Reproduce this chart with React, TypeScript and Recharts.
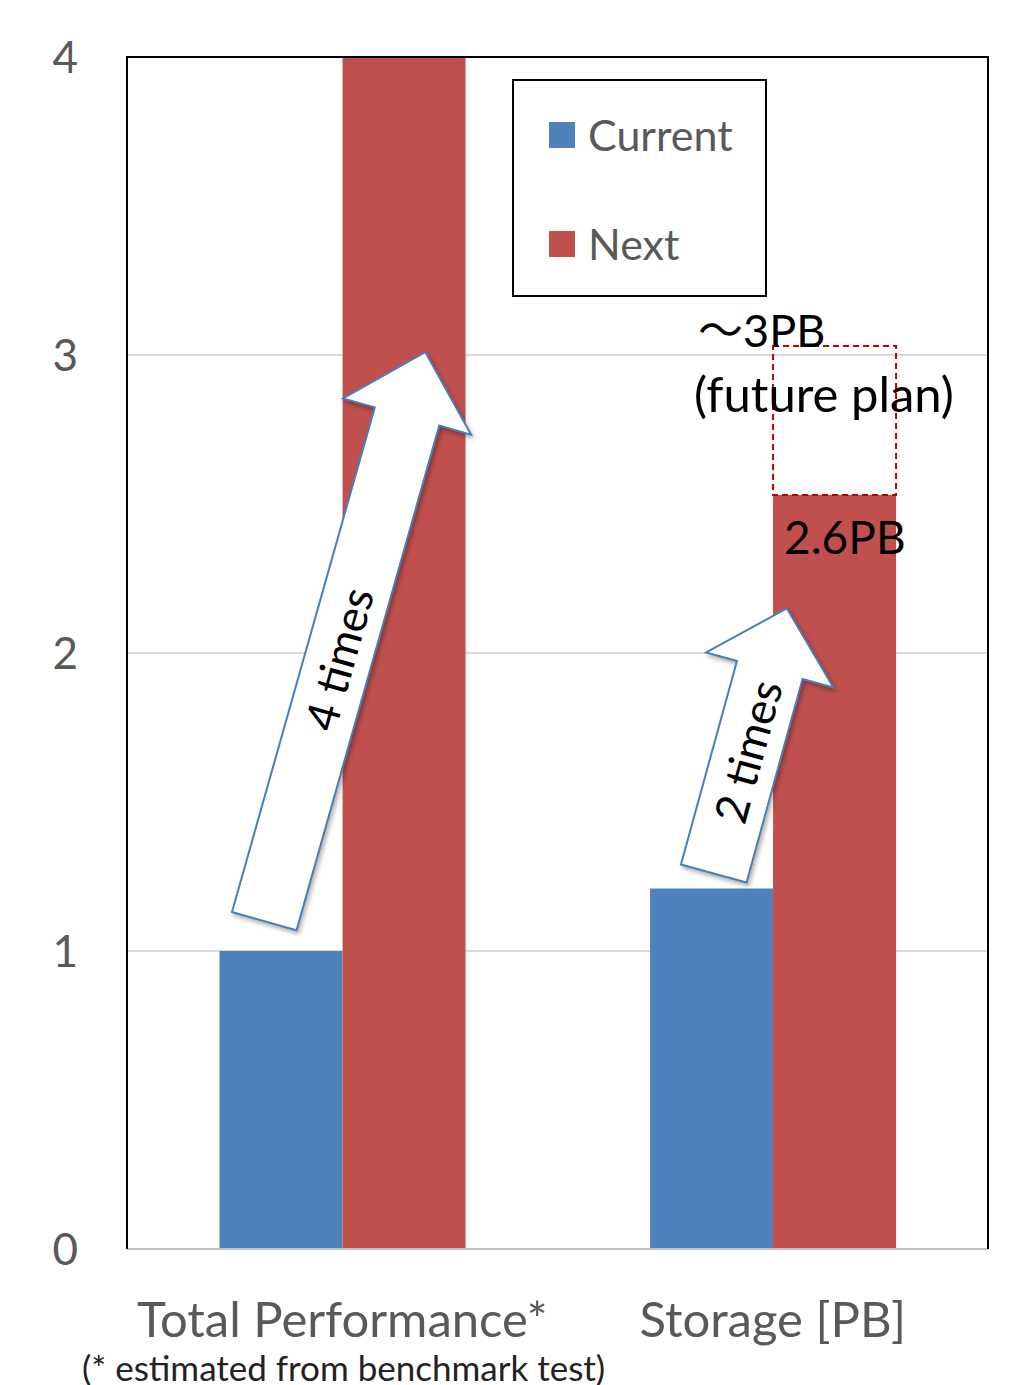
import { BarChart, Bar, XAxis, YAxis, CartesianGrid, LabelList } from "recharts";

const categories = ["Total Performance*", "Storage [PB]"];
const current = [1, 1.21];
const next = [4, 2.53];
const plan = [0, 0.5]; // dashed "future plan" box stacked on top of next
const nextLabels = ["", "2.6PB"];
const planLabels = ["〜3PB", "(future plan)"];
const yTicks = [0, 1, 2, 3, 4];
const footnote = "(* estimated from benchmark test)";
const legendItems = [
    { name: "Current", color: "#4f81bd" },
    { name: "Next", color: "#c0504d" },
];

const data = categories.map((name, i) => ({
    name,
    current: current[i],
    next: next[i],
    plan: plan[i],
}));

const W = 1024;
const H = 1385;
const Y_AXIS_W = 127;
const X_AXIS_H = 136;
const MARGIN = { top: 57, right: 36, bottom: 0, left: 0 };
const PLOT = {
    x: MARGIN.left + Y_AXIS_W,
    y: MARGIN.top,
    w: W - MARGIN.left - Y_AXIS_W - MARGIN.right,
    h: H - MARGIN.top - MARGIN.bottom - X_AXIS_H,
};
const Y_MAX = 4;
const FONT = "Lato, 'Noto Sans CJK JP', sans-serif";

const yPx = (v: number) => PLOT.y + PLOT.h * (1 - v / Y_MAX);
const bandCenter = (i: number) => PLOT.x + (PLOT.w / categories.length) * (i + 0.5);

// arrows: x as offset from category centre, y in data units
const arrows = [
    { cat: 0, tailDx: -78, tailV: 1.1, tipDx: 83, tipV: 3.01, shaft: 67, head: 133, headLen: 67, text: "4 times", t: 0.52 },
    { cat: 1, tailDx: -59, tailV: 1.26, tipDx: 14, tipV: 2.15, shaft: 68, head: 132, headLen: 64, text: "2 times", t: 0.6 },
];

function Arrow({ a }: { a: (typeof arrows)[number] }) {
    const tx = bandCenter(a.cat) + a.tailDx;
    const ty = yPx(a.tailV);
    const px = bandCenter(a.cat) + a.tipDx;
    const py = yPx(a.tipV);
    const len = Math.hypot(px - tx, py - ty);
    const ux = (px - tx) / len;
    const uy = (py - ty) / len;
    const nx = -uy;
    const ny = ux;
    const bx = px - ux * a.headLen;
    const by = py - uy * a.headLen;
    const s = a.shaft / 2;
    const h = a.head / 2;
    const pts = [
        [tx + nx * s, ty + ny * s],
        [bx + nx * s, by + ny * s],
        [bx + nx * h, by + ny * h],
        [px, py],
        [bx - nx * h, by - ny * h],
        [bx - nx * s, by - ny * s],
        [tx - nx * s, ty - ny * s],
    ];
    const cx = tx + (bx - tx) * a.t;
    const cy = ty + (by - ty) * a.t;
    const angle = (Math.atan2(uy, ux) * 180) / Math.PI;
    return (
        <g>
            <polygon
                points={pts.map((p) => p.join(",")).join(" ")}
                fill="#ffffff"
                stroke="#4a7ebb"
                strokeWidth={2}
                style={{ filter: "drop-shadow(2px 3px 2px rgba(0,0,0,0.3))" }}
            />
            <text
                x={cx}
                y={cy}
                transform={`rotate(${angle} ${cx} ${cy})`}
                textAnchor="middle"
                dominantBaseline="central"
                fontSize={45}
                fontFamily={FONT}
                fill="#000"
            >
                {a.text}
            </text>
        </g>
    );
}

// drawn on top of the chart svg
function Overlay() {
    return (
        <svg width={W} height={H} style={{ position: "absolute", left: 0, top: 0, pointerEvents: "none" }}>
            <polyline
                points={`${PLOT.x},${PLOT.y + PLOT.h} ${PLOT.x},${PLOT.y} ${PLOT.x + PLOT.w},${PLOT.y} ${PLOT.x + PLOT.w},${PLOT.y + PLOT.h}`}
                fill="none"
                stroke="#000"
                strokeWidth={2}
            />
            {arrows.map((a, i) => (
                <Arrow key={i} a={a} />
            ))}
            <text x={82} y={1381} fontSize={35} fontFamily={FONT} fill="#222">
                {footnote}
            </text>
        </svg>
    );
}

function LegendBox() {
    return (
        <div
            style={{
                position: "absolute",
                left: 512,
                top: 79,
                width: 251,
                height: 214,
                border: "2px solid #000",
                background: "#fff",
                fontFamily: FONT,
            }}
        >
            {legendItems.map((it, i) => (
                <div
                    key={it.name}
                    style={{
                        position: "absolute",
                        left: 35,
                        top: 29 + i * 109,
                        display: "flex",
                        alignItems: "center",
                        height: 50,
                    }}
                >
                    <span style={{ width: 26, height: 26, background: it.color, display: "inline-block", marginRight: 13 }} />
                    <span style={{ fontSize: 43, color: "#595959", lineHeight: "50px" }}>{it.name}</span>
                </div>
            ))}
        </div>
    );
}

// label inside the next bar plus the "future plan" note above the dashed box
const renderNextLabel = (props: any) => {
    const { x, y, index } = props;
    const txt = nextLabels[index];
    if (!txt) return null;
    const planTop = y - (plan[index] * PLOT.h) / Y_MAX;
    return (
        <g>
            <text x={x + 11} y={y + 59} fontSize={46} fontFamily={FONT} fill="#000">
                {txt}
            </text>
            <text x={x - 75} y={planTop + 1} fontSize={45} fontFamily={FONT} fill="#000">
                {planLabels[0]}
            </text>
            <text x={x - 79} y={planTop + 66} fontSize={49} fontFamily={FONT} fill="#000">
                {planLabels[1]}
            </text>
        </g>
    );
};

export default function App() {
    return (
        <div style={{ position: "absolute", left: 0, top: 0, width: W, height: H, background: "#fff", overflow: "hidden" }}>
            <BarChart width={W} height={H} data={data} margin={MARGIN} barCategoryGap="21.5%" barGap={0}>
                <CartesianGrid vertical={false} stroke="#d9d9d9" strokeWidth={2} />
                <XAxis
                    dataKey="name"
                    height={X_AXIS_H}
                    axisLine={{ stroke: "#bfbfbf", strokeWidth: 2 }}
                    tickLine={false}
                    tickSize={0}
                    tickMargin={53}
                    tick={{ fontSize: 49, fill: "#595959", fontFamily: FONT }}
                />
                <YAxis
                    width={Y_AXIS_W}
                    domain={[0, Y_MAX]}
                    ticks={yTicks}
                    axisLine={false}
                    tickLine={false}
                    tickSize={0}
                    tickMargin={49}
                    tick={{ fontSize: 44, fill: "#595959", fontFamily: FONT }}
                />
                <Bar dataKey="current" name="Current" fill="#4f81bd" stackId="c" isAnimationActive={false} />
                <Bar dataKey="next" name="Next" fill="#c0504d" stackId="n" isAnimationActive={false}>
                    <LabelList dataKey="next" content={renderNextLabel} />
                </Bar>
                <Bar
                    dataKey="plan"
                    name="Plan"
                    stackId="n"
                    fill="none"
                    stroke="#c00000"
                    strokeWidth={2}
                    strokeDasharray="6 4"
                    isAnimationActive={false}
                />
            </BarChart>
            <Overlay />
            <LegendBox />
        </div>
    );
}
